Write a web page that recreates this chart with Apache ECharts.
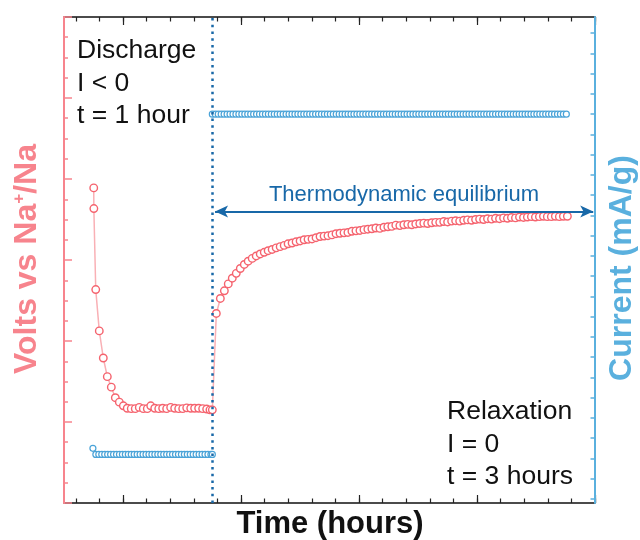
<!DOCTYPE html>
<html>
<head>
<meta charset="utf-8">
<script src="https://cdn.jsdelivr.net/npm/echarts@6/dist/echarts.min.js"></script>
<style>
html,body{margin:0;padding:0;background:#fff;}
#chart{width:640px;height:540px;}
</style>
</head>
<body>
<div id="chart"></div>
<script>
// ---------------- DATA ----------------
// Voltage (V vs Na+/Na) during discharge (t in hours)
const dischargeTime = [0.752,0.753,0.769,0.799,0.833,0.867,0.901,0.935,0.969,1.003,
  1.036,1.070,1.104,1.138,1.172,1.206,1.235,1.269,1.303,1.336,
  1.370,1.404,1.438,1.472,1.506,1.540,1.574,1.607,1.641,1.675,
  1.709,1.737,1.757];
const dischargeVolt = [2.778,2.727,2.527,2.425,2.358,2.312,2.286,2.260,2.249,2.240,
  2.234,2.233,2.233,2.236,2.233,2.233,2.240,2.234,2.233,2.234,
  2.233,2.236,2.234,2.233,2.233,2.235,2.234,2.234,2.234,2.233,
  2.232,2.230,2.230];
// Voltage during relaxation
const relaxTime = [1.791,1.825,1.859,1.892,1.926,1.960,1.994,2.028,2.061,2.095,
  2.129,2.163,2.197,2.230,2.264,2.298,2.332,2.366,2.399,2.433,
  2.467,2.501,2.535,2.568,2.602,2.636,2.670,2.704,2.737,2.771,
  2.805,2.839,2.873,2.906,2.940,2.974,3.008,3.042,3.075,3.109,
  3.143,3.177,3.211,3.244,3.278,3.312,3.346,3.380,3.413,3.447,
  3.481,3.515,3.549,3.582,3.616,3.650,3.684,3.718,3.751,3.785,
  3.819,3.853,3.887,3.920,3.954,3.988,4.022,4.056,4.089,4.123,
  4.157,4.191,4.225,4.258,4.292,4.326,4.360,4.394,4.427,4.461,
  4.495,4.529,4.563,4.596,4.630,4.664,4.698,4.732,4.766];
const relaxVolt = [2.468,2.505,2.524,2.541,2.555,2.567,2.579,2.589,2.597,2.604,
  2.610,2.615,2.619,2.623,2.626,2.630,2.633,2.636,2.640,2.642,
  2.645,2.647,2.650,2.651,2.652,2.655,2.658,2.659,2.660,2.662,
  2.665,2.666,2.667,2.668,2.671,2.672,2.673,2.675,2.676,2.677,
  2.679,2.678,2.681,2.682,2.683,2.686,2.685,2.687,2.688,2.687,
  2.689,2.690,2.691,2.690,2.692,2.693,2.693,2.695,2.694,2.696,
  2.697,2.696,2.698,2.699,2.698,2.700,2.701,2.700,2.702,2.701,
  2.703,2.702,2.704,2.703,2.705,2.704,2.706,2.705,2.706,2.707,
  2.706,2.707,2.708,2.707,2.707,2.708,2.707,2.708,2.708];
// Current (mA/g) during discharge
const dischargeCurTime = [0.745,0.770,0.795,0.820,0.845,0.870,0.895,0.920,0.945,0.970,
  0.995,1.020,1.045,1.070,1.095,1.120,1.145,1.170,1.195,1.220,
  1.245,1.270,1.295,1.320,1.345,1.370,1.395,1.420,1.445,1.470,
  1.495,1.520,1.545,1.570,1.595,1.620,1.645,1.670,1.695,1.720,
  1.745,1.757];
const dischargeCur = [-165,-168,-168,-168,-168,-168,-168,-168,-168,-168,
  -168,-168,-168,-168,-168,-168,-168,-168,-168,-168,
  -168,-168,-168,-168,-168,-168,-168,-168,-168,-168,
  -168,-168,-168,-168,-168,-168,-168,-168,-168,-168,
  -168,-168];
// Current during relaxation
const relaxCurTime = [1.757,1.782,1.807,1.832,1.857,1.882,1.907,1.932,1.957,1.982,
  2.007,2.032,2.057,2.082,2.107,2.132,2.157,2.182,2.207,2.232,
  2.257,2.282,2.307,2.332,2.357,2.382,2.407,2.432,2.457,2.482,
  2.507,2.532,2.557,2.582,2.607,2.632,2.657,2.682,2.707,2.732,
  2.757,2.782,2.807,2.832,2.857,2.882,2.907,2.932,2.957,2.982,
  3.007,3.032,3.057,3.082,3.107,3.132,3.157,3.182,3.207,3.232,
  3.257,3.282,3.307,3.332,3.357,3.382,3.407,3.432,3.457,3.482,
  3.507,3.532,3.557,3.582,3.607,3.632,3.657,3.682,3.707,3.732,
  3.757,3.782,3.807,3.832,3.857,3.882,3.907,3.932,3.957,3.982,
  4.007,4.032,4.057,4.082,4.107,4.132,4.157,4.182,4.207,4.232,
  4.257,4.282,4.307,4.332,4.357,4.382,4.407,4.432,4.457,4.482,
  4.507,4.532,4.557,4.582,4.607,4.632,4.657,4.682,4.707,4.732,
  4.757];
const relaxCur = [0,0,0,0,0,0,0,0,0,0, 0,0,0,0,0,0,0,0,0,0,
  0,0,0,0,0,0,0,0,0,0, 0,0,0,0,0,0,0,0,0,0,
  0,0,0,0,0,0,0,0,0,0, 0,0,0,0,0,0,0,0,0,0,
  0,0,0,0,0,0,0,0,0,0, 0,0,0,0,0,0,0,0,0,0,
  0,0,0,0,0,0,0,0,0,0, 0,0,0,0,0,0,0,0,0,0,
  0,0,0,0,0,0,0,0,0,0, 0,0,0,0,0,0,0,0,0,0,
  0];
// Annotation positions (data coordinates)
const switchTime = 1.757;              // discharge -> relaxation
const equilArrow = {t0: 1.78, t1: 4.985, v: 2.720};
// Axis ranges (no tick labels in the figure)
const timeRange = [0.5, 5.0];
const voltRange = [2.0, 3.2];
const curRange = [-192, 48];

// ---------------- STYLE ----------------
const PINK_AXIS = '#f7848d';
const RED_MARK = '#f5636e';
const RED_LINE = '#f9b0b5';
const BLUE_AXIS = '#5ab0de';
const BLUE_MARK = '#4aa3d8';
const BLUE_LINE = '#a9d5ef';
const DARK_BLUE = '#1868a8';
const FONT = '"Liberation Sans", Arial, sans-serif';

const zip = (a, b) => a.map((v, i) => [v, b[i]]);

// tick scaffolding categories
const xCats = [];
for (let i = 0; i <= 45; i++) xCats.push((timeRange[0] + i * 0.1).toFixed(1));
const yCats = [];
for (let v = curRange[0]; v <= curRange[1]; v += 2) yCats.push(String(v));

const tickX = (pos, len, fn, line) => ({
  type: 'category', data: xCats, boundaryGap: false, position: pos, z: 3,
  axisLine: {show: line, onZero: false, lineStyle: {color: '#111', width: 1.5}},
  axisTick: {show: true, inside: true, length: len, interval: fn, lineStyle: {color: '#222', width: 1.2}},
  axisLabel: {show: false}, splitLine: {show: false}
});
const minorFn = (i) => i % 2 === 1;
const majorFn = (i) => i % 10 === 5;

const chart = echarts.init(document.getElementById('chart'), null, {renderer: 'canvas'});
const option = {
  animation: false,
  backgroundColor: '#fff',
  grid: {left: 64, right: 45, top: 17, bottom: 37, containLabel: false},
  xAxis: [
    {type: 'value', min: timeRange[0], max: timeRange[1], show: false, position: 'bottom',
     axisLine: {onZero: false}},
    tickX('bottom', 4.5, minorFn, true),
    tickX('bottom', 8, majorFn, false),
    tickX('top', 4.5, minorFn, true),
    tickX('top', 8, majorFn, false)
  ],
  yAxis: [
    {type: 'value', min: voltRange[0], max: voltRange[1], interval: 0.2, position: 'left', z: 5,
     axisLine: {show: true, onZero: false, lineStyle: {color: PINK_AXIS, width: 2}},
     axisTick: {show: true, inside: true, length: 8, lineStyle: {color: PINK_AXIS, width: 1.5}},
     minorTick: {show: true, splitNumber: 4, length: 4, lineStyle: {color: PINK_AXIS, width: 1.5}},
     axisLabel: {show: false}, splitLine: {show: false}},
    {type: 'value', min: curRange[0], max: curRange[1], position: 'right', show: false,
     axisLine: {onZero: false}},
    {type: 'category', data: yCats, boundaryGap: false, position: 'right', z: 4,
     axisLine: {show: true, onZero: false, lineStyle: {color: BLUE_AXIS, width: 2}},
     axisTick: {show: true, inside: true, length: 4.5,
       interval: (i, v) => Number(v) % 10 === 0, lineStyle: {color: BLUE_AXIS, width: 1.5}},
     axisLabel: {show: false}, splitLine: {show: false}}
  ],
  series: [
    {
      type: 'line', name: 'Voltage', xAxisIndex: 0, yAxisIndex: 0, z: 2,
      data: zip(dischargeTime.concat(relaxTime), dischargeVolt.concat(relaxVolt)),
      symbol: 'circle', symbolSize: 7.5, showAllSymbol: true,
      itemStyle: {color: '#fff', borderColor: RED_MARK, borderWidth: 1.4},
      lineStyle: {color: RED_LINE, width: 1.5},
      markLine: {
        silent: true, animation: false, symbol: ['arrow', 'arrow'], symbolSize: [9, 13],
        label: {show: false},
        lineStyle: {color: DARK_BLUE, width: 2, type: 'solid'},
        data: [[{coord: [equilArrow.t0, equilArrow.v]}, {coord: [equilArrow.t1, equilArrow.v]}]]
      }
    },
    {
      type: 'line', name: 'Current discharge', xAxisIndex: 0, yAxisIndex: 1, z: 2,
      data: zip(dischargeCurTime, dischargeCur),
      symbol: 'circle', symbolSize: 6, showAllSymbol: true,
      itemStyle: {color: '#fff', borderColor: BLUE_MARK, borderWidth: 1.2},
      lineStyle: {color: BLUE_LINE, width: 1}
    },
    {
      type: 'line', name: 'Current relaxation', xAxisIndex: 0, yAxisIndex: 1, z: 2,
      data: zip(relaxCurTime, relaxCur),
      symbol: 'circle', symbolSize: 6, showAllSymbol: true,
      itemStyle: {color: '#fff', borderColor: BLUE_MARK, borderWidth: 1.2},
      lineStyle: {color: BLUE_LINE, width: 1},
      markLine: {
        silent: true, animation: false, symbol: 'none', label: {show: false},
        lineStyle: {color: DARK_BLUE, width: 2.5, type: [2.5, 4.2]},
        data: [{xAxis: switchTime}]
      }
    }
  ],
  graphic: [
    {type: 'text', x: 77, y: 51, style: {text: 'Discharge', font: '26.5px ' + FONT, fill: '#111', align: 'left', verticalAlign: 'middle'}},
    {type: 'text', x: 77, y: 83.5, style: {text: 'I < 0', font: '26.5px ' + FONT, fill: '#111', align: 'left', verticalAlign: 'middle'}},
    {type: 'text', x: 77, y: 116, style: {text: 't = 1 hour', font: '26.5px ' + FONT, fill: '#111', align: 'left', verticalAlign: 'middle'}},
    {type: 'text', x: 447, y: 412, style: {text: 'Relaxation', font: '26.5px ' + FONT, fill: '#111', align: 'left', verticalAlign: 'middle'}},
    {type: 'text', x: 447, y: 444.5, style: {text: 'I = 0', font: '26.5px ' + FONT, fill: '#111', align: 'left', verticalAlign: 'middle'}},
    {type: 'text', x: 447, y: 477, style: {text: 't = 3 hours', font: '26.5px ' + FONT, fill: '#111', align: 'left', verticalAlign: 'middle'}},
    {type: 'text', x: 404, y: 195, style: {text: 'Thermodynamic equilibrium', font: '22px ' + FONT, fill: DARK_BLUE, align: 'center', verticalAlign: 'middle'}},
    {type: 'text', x: 330, y: 524, style: {text: 'Time (hours)', font: 'bold 31px ' + FONT, fill: '#111', align: 'center', verticalAlign: 'middle'}},
    {type: 'text', x: 27, y: 259, rotation: Math.PI / 2,
     style: {text: '{b|Volts vs Na}{s|+}{b|/Na}', align: 'center', verticalAlign: 'middle',
       rich: {
         b: {fontSize: 32, fontWeight: 'bold', fontFamily: FONT, fill: PINK_AXIS, lineHeight: 33},
         s: {fontSize: 17, fontWeight: 'bold', fontFamily: FONT, fill: PINK_AXIS, verticalAlign: 'top', lineHeight: 33}
       }}},
    {type: 'text', x: 622, y: 268, rotation: Math.PI / 2,
     style: {text: 'Current (mA/g)', font: 'bold 32px ' + FONT, fill: BLUE_AXIS, align: 'center', verticalAlign: 'middle'}}
  ]
};
chart.setOption(option);
</script>
</body>
</html>
